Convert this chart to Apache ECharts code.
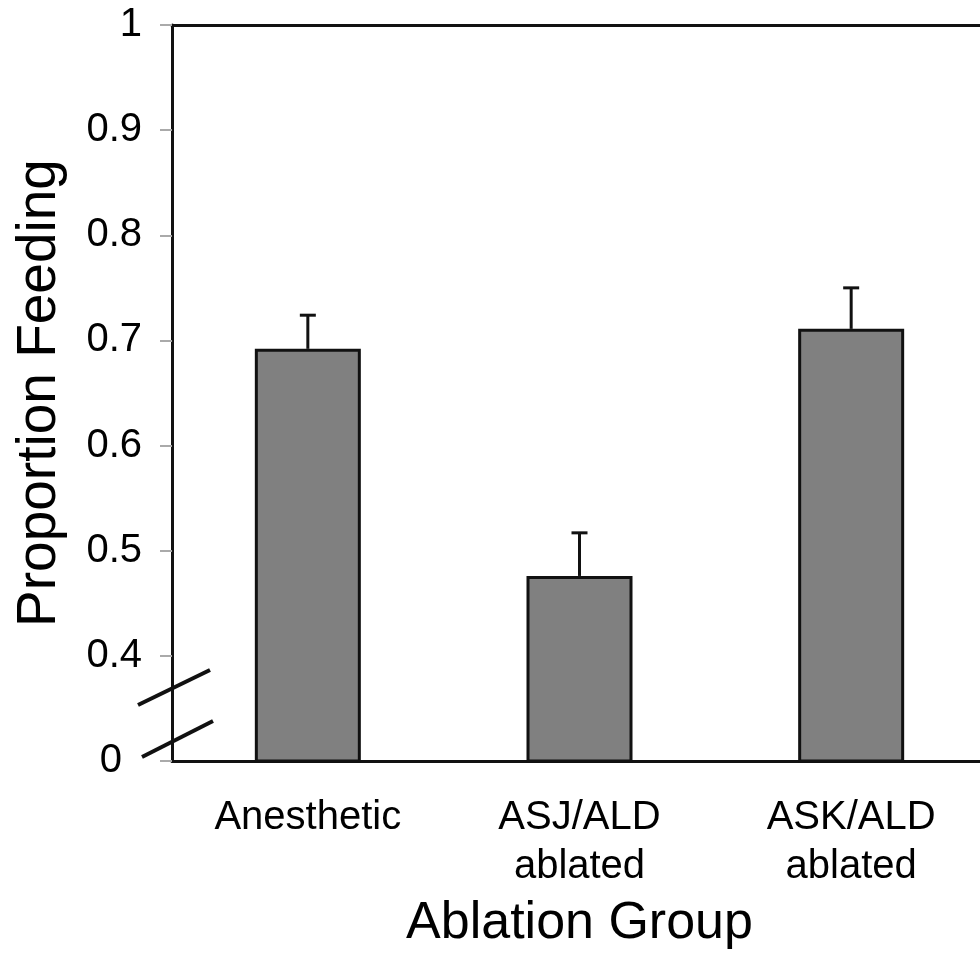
<!DOCTYPE html>
<html>
<head>
<meta charset="utf-8">
<script src="https://cdn.jsdelivr.net/npm/echarts@6/dist/echarts.min.js"></script>
<style>
  html, body { margin: 0; padding: 0; background: #fff; }
  #chart { width: 980px; height: 956px; }
</style>
</head>
<body>
<div id="chart"></div>
<script>
var groups = ['Anesthetic', 'ASJ/ALD\nablated', 'ASK/ALD\nablated'];
var feeding = [0.692, 0.476, 0.711];
var errTop = [0.724, 0.517, 0.750];
var yMin = 0.3;   // shown as "0" (axis break)
var yMax = 1;
var yStep = 0.1;

var font = '"Liberation Sans", Arial, sans-serif';
var ink = '#111';

var myChart = echarts.init(document.getElementById('chart'));

var option = {
    animation: false,
    grid: { left: 172, top: 25, bottom: 195, right: -7, containLabel: false, outerBoundsMode: 'none' },
    xAxis: [{
        type: 'category',
        data: groups,
        position: 'bottom',
        axisLine: { lineStyle: { color: ink, width: 3 } },
        axisTick: { show: false },
        axisLabel: { interval: 0, margin: 32, fontFamily: font, fontSize: 40, lineHeight: 49, color: '#000' },
        name: 'Ablation Group',
        nameLocation: 'middle',
        nameGap: 137,
        nameTextStyle: { fontFamily: font, fontSize: 52, color: '#000' }
    }, {
        type: 'category',
        data: groups,
        position: 'top',
        axisLine: { lineStyle: { color: ink, width: 3 } },
        axisTick: { show: false },
        axisLabel: { show: false }
    }],
    yAxis: {
        type: 'value',
        min: yMin,
        max: yMax,
        interval: yStep,
        axisLine: { show: true, lineStyle: { color: ink, width: 3 } },
        axisTick: { show: true, length: 12, lineStyle: { color: '#aaa', width: 2 } },
        splitLine: { show: false },
        axisLabel: {
            margin: 30,
            fontFamily: font,
            fontSize: 40,
            color: '#000',
            formatter: function (v) {
                if (Math.abs(v - yMin) < 1e-6) return '{z|0}';
                if (Math.abs(v - 1) < 1e-6) return '1';
                return v.toFixed(1);
            },
            rich: { z: { fontFamily: font, fontSize: 40, color: '#000', padding: [0, 20, 0, 0] } }
        },
        name: 'Proportion Feeding',
        nameLocation: 'middle',
        nameGap: 105,
        nameTextStyle: { fontFamily: font, fontSize: 55, color: '#000' }
    },
    series: [{
        type: 'bar',
        data: feeding,
        barWidth: 106,
        itemStyle: { color: '#808080', borderColor: ink, borderWidth: 3 },
        z: 2
    }, {
        type: 'custom',
        data: groups.map(function (g, i) { return [i, feeding[i], errTop[i]]; }),
        z: 3,
        renderItem: function (params, api) {
            var base = api.coord([api.value(0), api.value(1)]);
            var top = api.coord([api.value(0), api.value(2)]);
            var cap = 8;
            var style = { stroke: ink, lineWidth: 3 };
            return {
                type: 'group',
                children: [
                    { type: 'line', shape: { x1: base[0], y1: base[1], x2: top[0], y2: top[1] }, style: style },
                    { type: 'line', shape: { x1: top[0] - cap, y1: top[1], x2: top[0] + cap, y2: top[1] }, style: style }
                ]
            };
        }
    }]
};

myChart.setOption(option);

// axis break marks on the y axis
var origin = myChart.convertToPixel({ gridIndex: 0 }, [0, yMin]);
var ax = 172, ay = origin[1];
myChart.setOption({
    graphic: [
        { type: 'line', shape: { x1: ax - 34, y1: ay - 56, x2: ax + 38, y2: ay - 91 }, style: { stroke: ink, lineWidth: 4 } },
        { type: 'line', shape: { x1: ax - 30, y1: ay - 4, x2: ax + 41, y2: ay - 40 }, style: { stroke: ink, lineWidth: 4 } }
    ]
});
</script>
</body>
</html>
